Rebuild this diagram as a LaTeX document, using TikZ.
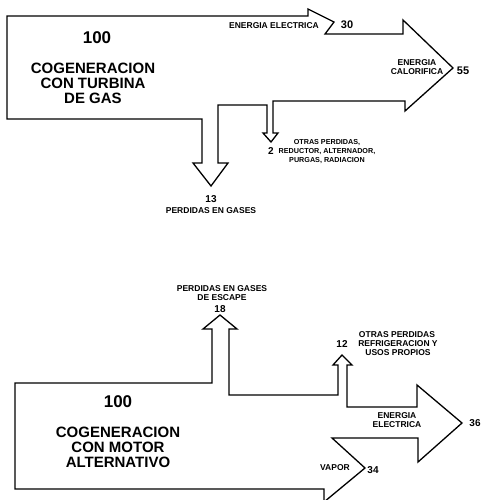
\documentclass[tikz,border=0pt]{standalone}
\usepackage{fontspec}
\setmainfont{Liberation Sans}
\begin{document}
\begin{tikzpicture}[x=1pt,y=-1pt,
  flow/.style={draw=black,line width=1.3pt,line join=miter,fill=white},
  bigtxt/.style={font=\fontsize{15}{15}\selectfont\bfseries,align=center,inner sep=0pt},
  hundred/.style={font=\fontsize{17}{17}\selectfont\bfseries,inner sep=0pt},
  smalltxt/.style={font=\fontsize{8.5}{9}\selectfont\bfseries,align=center,inner sep=0pt},
  tighttxt/.style={font=\fontsize{7.2}{9}\selectfont\bfseries,align=center,inner sep=0pt},
  numtxt/.style={font=\fontsize{10}{10}\selectfont\bfseries,inner sep=0pt},
  bignum/.style={font=\fontsize{11}{11}\selectfont\bfseries,inner sep=0pt}]
\useasboundingbox (0,0) rectangle (482,500);
\fill[white] (0,0) rectangle (482,500);
% ---------- top diagram: gas turbine ----------
\draw[flow] (7,16) -- (308,16) -- (308,9) -- (334,22) -- (325,34) -- (403,34)
  -- (403,20) -- (453,68) -- (405,111) -- (405,101) -- (273,101) -- (273,133)
  -- (278,133) -- (271,142) -- (263,133) -- (267,133) -- (267,105) -- (218,105)
  -- (218,163) -- (228,163) -- (211,186) -- (193,163) -- (202,163) -- (202,119)
  -- (7,119) -- cycle;
\node[hundred] (t100) at (97,38) {100};
\node[bigtxt] (tcog) at (93,83) {COGENERACION\\CON TURBINA\\DE GAS};
\node[smalltxt] (telec) at (274,26) {ENERGIA ELECTRICA};
\node[bignum] (t30) at (347,25) {30};
\node[smalltxt] (tcal) at (417,67) {ENERGIA\\CALORIFICA};
\node[bignum] (t55) at (463,71) {55};
\node[numtxt] (t2) at (271,151) {2};
\node[tighttxt] (totras) at (327,152) {OTRAS PERDIDAS,\\REDUCTOR, ALTERNADOR,\\PURGAS, RADIACION};
\node[numtxt] (t13) at (211,199) {13};
\node[smalltxt] (tgas) at (211,211) {PERDIDAS EN GASES};
% ---------- bottom diagram: reciprocating engine ----------
\draw[flow] (15,383) -- (212,383) -- (212,329) -- (203,329) -- (220,315)
  -- (237,329) -- (229,329) -- (229,395) -- (338,395) -- (338,365) -- (333,365)
  -- (342,355) -- (352,365) -- (347,365) -- (347,407) -- (417,407) -- (417,385)
  -- (462,423) -- (418,462) -- (418,438) -- (332,438) -- (365,468) -- (324,502)
  -- (324,489) -- (15,489) -- cycle;
\node[smalltxt] (bgas) at (222,293.5) {PERDIDAS EN GASES\\DE ESCAPE};
\node[numtxt] (b18) at (220,309) {18};
\node[smalltxt] (botras) at (397,335) {OTRAS PERDIDAS};
\node[numtxt] (b12) at (342,344) {12};
\node[smalltxt] (brefr) at (398,348.5) {REFRIGERACION Y\\USOS PROPIOS};
\node[hundred] (b100) at (118,402) {100};
\node[bigtxt] (bcog) at (118,447) {COGENERACION\\CON MOTOR\\ALTERNATIVO};
\node[smalltxt] (belec) at (397,420) {ENERGIA\\ELECTRICA};
\node[numtxt] (b36) at (475,423) {36};
\node[smalltxt] (bvap) at (335,468) {VAPOR};
\node[numtxt] (b34) at (373,470) {34};
\end{tikzpicture}
\end{document}
